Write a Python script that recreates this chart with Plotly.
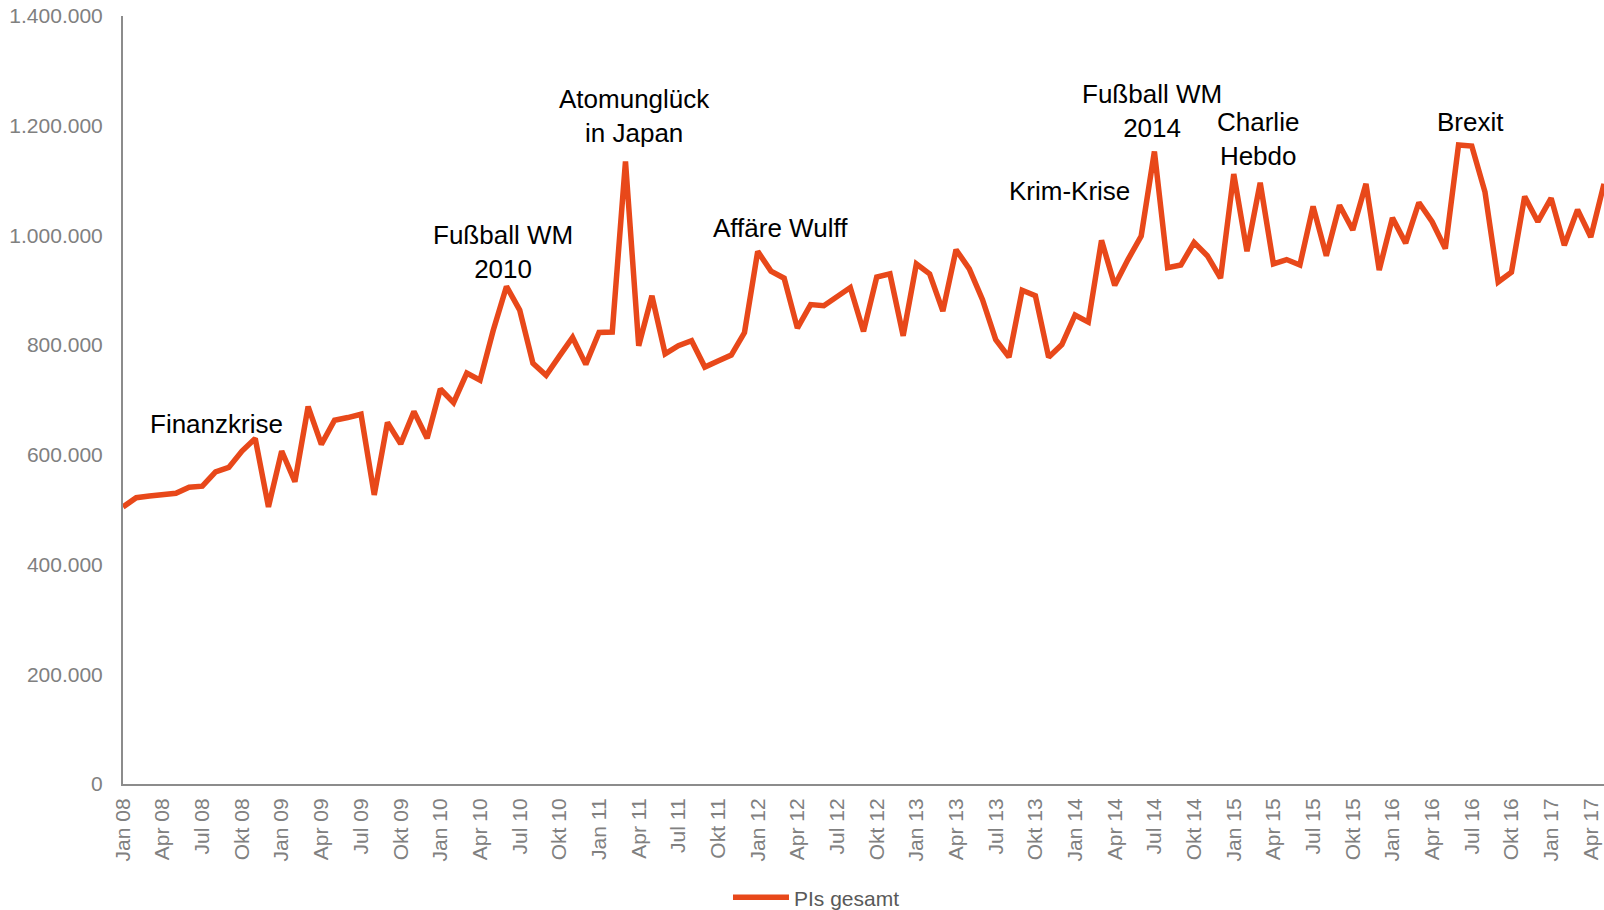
import plotly.graph_objects as go

month_names = ["Jan", "Feb", "Mrz", "Apr", "Mai", "Jun", "Jul", "Aug", "Sep", "Okt", "Nov", "Dez"]
years = ["08", "09", "10", "11", "12", "13", "14", "15", "16", "17"]
months = [f"{m} {y}" for y in years for m in month_names][:113]  # Jan 08 .. Mai 17

pis_gesamt = [
    505000, 522000, 525000, 528000, 530000, 541000, 543000, 569000, 577000, 607000, 630000, 505000,
    607000, 551000, 688000, 619000, 663000, 668000, 674000, 527000, 659000, 620000, 679000, 630000,
    720000, 695000, 749000, 736000, 827000, 907000, 864000, 767000, 745000, 780000, 814000, 765000,
    823000, 824000, 1135000, 799000, 890000, 784000, 799000, 808000, 760000, 771000, 782000, 823000,
    971000, 935000, 922000, 831000, 874000, 872000, 888000, 905000, 825000, 924000, 930000, 817000,
    948000, 930000, 862000, 974000, 939000, 883000, 810000, 778000, 900000, 890000, 778000, 801000,
    855000, 842000, 991000, 909000, 956000, 999000, 1153000, 941000, 946000, 987000, 963000, 922000,
    1112000, 971000, 1096000, 948000, 956000, 946000, 1053000, 963000, 1055000, 1010000, 1094000, 937000,
    1032000, 986000, 1060000, 1025000, 976000, 1165000, 1163000, 1079000, 915000, 933000, 1071000, 1025000,
    1068000, 982000, 1047000, 997000, 1094000,
]

tick_labels = [m for m in months if m.split()[0] in ("Jan", "Apr", "Jul", "Okt")]

event_labels = ["Finanzkrise", "Fußball WM<br>2010", "Atomunglück<br>in Japan", "Affäre Wulff",
                "Krim-Krise", "Fußball WM<br>2014", "Charlie<br>Hebdo", "Brexit"]
event_x = [7.1, 28.7, 38.7, 49.7, 71.6, 77.8, 85.8, 101.9]
event_y = [657000, 970000, 1218000, 1014000, 1081000, 1226000, 1175000, 1206000]

FONT = "Arial, 'Liberation Sans', sans-serif"
ORANGE = "rgb(232,72,26)"

fig = go.Figure()
fig.add_trace(go.Scatter(
    x=months, y=pis_gesamt, mode="lines", name="PIs gesamt",
    line=dict(color=ORANGE, width=5.5),
))

for txt, ex, ey in zip(event_labels, event_x, event_y):
    fig.add_annotation(x=ex, y=ey, text=txt, showarrow=False,
                       xanchor="center", yanchor="middle",
                       font=dict(family=FONT, size=26, color="black"))

fig.update_layout(
    width=1604, height=910,
    margin=dict(l=123, r=0, t=16, b=126, autoexpand=False),
    paper_bgcolor="white", plot_bgcolor="white",
    separators=",.",
    font=dict(family=FONT),
    showlegend=True,
    legend=dict(orientation="h", x=0.4085, xanchor="left", y=-0.148, yanchor="middle",
                font=dict(family=FONT, size=21, color="#595959"), itemwidth=56),
    xaxis=dict(
        type="category", range=[0, len(months) - 1], automargin=False,
        tickmode="array", tickvals=tick_labels, ticktext=tick_labels,
        tickangle=-90, tickfont=dict(family=FONT, size=21, color="#808080"),
        showgrid=False, showline=True, linecolor="#8c8c8c", linewidth=2,
        ticks="", ticklabelstandoff=4, zeroline=False, ticklabeloverflow="allow",
    ),
    yaxis=dict(
        range=[0, 1400000], tickmode="array", automargin=False,
        tickvals=[0, 200000, 400000, 600000, 800000, 1000000, 1200000, 1400000],
        tickformat=",d", tickfont=dict(family=FONT, size=21, color="#808080"),
        showgrid=False, showline=True, linecolor="#8c8c8c", linewidth=2,
        ticks="", ticklabelstandoff=14, zeroline=False, ticklabeloverflow="allow",
    ),
)

fig.write_html("out.html",
               config={"displayModeBar": False},
               post_script="document.body.style.margin='0';document.body.style.overflow='hidden';")
